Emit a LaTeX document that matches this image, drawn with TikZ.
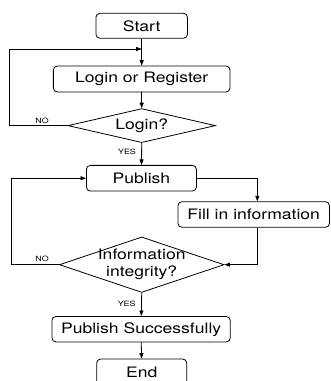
\documentclass[tikz,border=0pt]{standalone}
\usepackage{fontspec}
\setmainfont{TeX Gyre Heros}[FakeStretch=1.22]
\usetikzlibrary{arrows.meta,shapes.geometric,calc}

\tikzset{
  box/.style={draw, rounded corners=4pt, line width=0.8pt, inner sep=0pt,
    font=\fontsize{14.4}{17}\selectfont},
  dia/.style={draw, diamond, line width=0.8pt, inner sep=0pt},
  txt/.style={inner sep=0pt, align=center, font=\fontsize{14.4}{17}\selectfont},
  tag/.style={inner sep=0pt, font=\fontsize{7.3}{8}\selectfont},
  flow/.style={line width=0.8pt, -{Triangle[length=5.5pt,width=4pt]}},
  wire/.style={line width=0.8pt}
}

\begin{document}
\begin{tikzpicture}[x=1pt,y=-1pt]
  \useasboundingbox (0,0) rectangle (331,381);
  \clip (0,0) rectangle (331,381);

  % process boxes
  \node[box, minimum width=91.6pt, minimum height=25pt] (start) at (141.7,25.8) {Start};
  \node[box, minimum width=176.7pt, minimum height=26pt] (reg) at (141.7,79) {Login or Register};
  \node[box, minimum width=110pt, minimum height=25.7pt] (pub) at (141.4,178.2) {Publish};
  \node[box, minimum width=151.5pt, minimum height=25.6pt] (fill) at (253.7,214.5) {Fill in information};
  \node[box, minimum width=178.3pt, minimum height=25.5pt] (done) at (141.1,329.2) {Publish Successfully};
  \node[box, minimum width=90pt, minimum height=26pt] (end) at (141.7,372) {End};

  % decisions
  \node[dia, minimum width=147.5pt, minimum height=34pt] (qlogin) at (141.7,125.6) {};
  \node[txt] (qloginT) at (qlogin) {Login?};
  \node[dia, minimum width=164.7pt, minimum height=55.5pt] (qinfo) at (141.7,264.7) {};
  \node[txt] (qinfoT) at (141.7,264.2) {Information\\integrity?};

  % junctions of the return lines
  \coordinate (j1) at (141.7,49);
  \coordinate (c1) at (9.5,125.6);
  \coordinate (c2) at (11,264.7);

  % main flow
  \draw[flow] (start) -- (reg);
  \draw[flow] (reg) -- (qlogin.north);
  \draw[flow] (qlogin.south) -- (pub);
  \draw[flow] (pub.east) -| ([xshift=3.6pt]fill.north);
  \draw[flow] ([xshift=3.6pt]fill.south) |- (qinfo.east);
  \draw[flow] (qinfo.south) -- (done);
  \draw[flow] (done) -- (end);

  % return lines
  \draw[flow] (qlogin.west) -- (c1) |- (j1);
  \draw[flow] (qinfo.west) -- (c2) |- (pub.west);

  % branch labels
  \node[tag] (no1) at (42,120.7) {NO};
  \node[tag] (yes1) at (127,152) {YES};
  \node[tag] (no2) at (42,259.3) {NO};
  \node[tag] (yes2) at (126.7,304) {YES};
\end{tikzpicture}
\end{document}
